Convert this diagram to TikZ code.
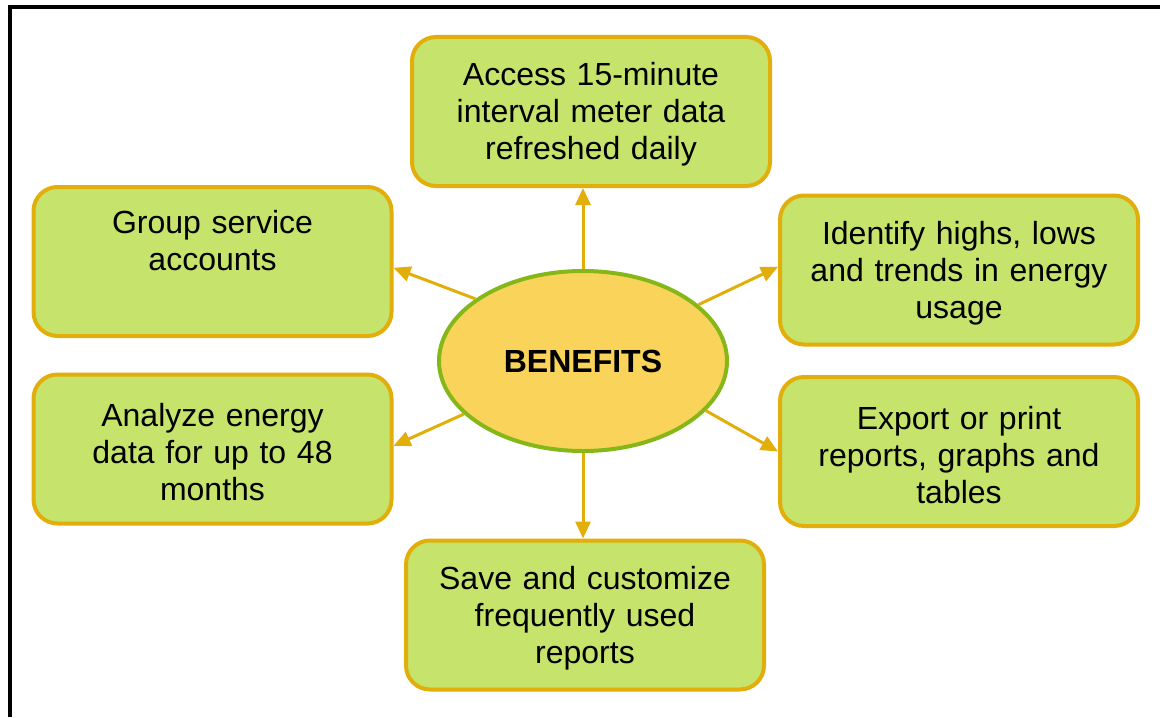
\documentclass[tikz,border=0pt]{standalone}
\usepackage{fontspec}
\setmainfont{Liberation Sans}
\usepackage{xcolor}
\usepackage{tikz}
\usetikzlibrary{positioning, arrows.meta, shapes.geometric}

\definecolor{boxfill}{HTML}{C6E36C}
\definecolor{boxline}{HTML}{E2AE0B}
\definecolor{hubfill}{HTML}{FAD45A}
\definecolor{hubline}{HTML}{85B719}

\begin{document}
\begin{tikzpicture}[
    x=0.5pt, y=-0.5pt,
    font=\fontsize{16}{18.5}\selectfont,
    % ---- benefit box style ----
    benefit/.style={
        rectangle,
        fill=boxfill,
        draw=boxline,
        line width=2pt,
        rounded corners=12pt,
        align=center,
        text width=170pt,
        minimum width=179pt,
        minimum height=74.5pt,
        inner sep=0pt,
        execute at begin node={\rule{0pt}{14.8pt}}
    },
    % ---- central ellipse ----
    hub/.style={
        ellipse,
        fill=hubfill,
        draw=hubline,
        line width=2pt,
        minimum width=144pt,
        minimum height=90pt,
        font=\fontsize{16}{18.5}\selectfont\bfseries
    },
    % ---- arrows ----
    link/.style={line width=1.5pt, draw=boxline, -{Triangle[length=8.5pt,width=7.5pt]}}
]
\useasboundingbox (0,0) rectangle (1160,717);

% ---- frame ----
\draw[line width=2pt] (10,717) |- (1160,7);

% ---------- centre ----------
\node[hub] (Ben) at (583,361) {BENEFITS};

% ---------- boxes ----------
\node[benefit] (Access) at (591,111.5) {
    Access 15-minute\\interval meter data\\refreshed daily};

\node[benefit] (Group) at (212.5,261.5) {
    Group service\\accounts\\\strut};

\node[benefit] (Trend) at (959,270) {
    Identify highs, lows\\and trends in energy\\usage};

\node[benefit] (Analyze) at (212.5,449) {
    Analyze energy\\data for up to 48\\months};

\node[benefit] (Export) at (959,451.5) {
    Export or print\\reports, graphs and\\tables};

\node[benefit] (Save) at (585,615) {
    Save and customize\\frequently used\\reports};

% ============================================================
%  ARROWS
% ============================================================
\draw[link] (Ben.north) -- (Ben.north |- Access.south);
\draw[link] (Ben.150) -- (Group.-2);
\draw[link] (Ben.26) -- (Trend.179);
\draw[link] (Ben.204) -- (Analyze.1);
\draw[link] (Ben.338) -- (Export.west);
\draw[link] (Ben.south) -- (Ben.south |- Save.north);

\end{tikzpicture}
\end{document}
